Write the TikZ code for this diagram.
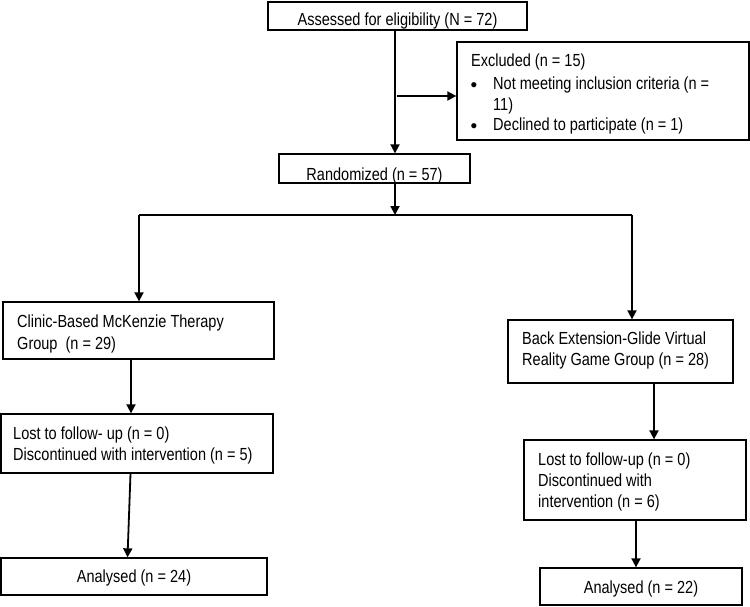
\documentclass[tikz,border=0pt]{standalone}
\usepackage{fontspec}
\setmainfont[FakeStretch=0.83]{Liberation Sans}
\newfontfamily\bulletfont{Liberation Sans}
\usetikzlibrary{arrows.meta,calc}
\begin{document}
\begin{tikzpicture}[x=1pt,y=1pt,
  box/.style={draw=black,line width=1.3pt,rectangle,inner sep=0pt},
  txt/.style={anchor=base west,inner sep=0pt,font=\fontsize{17.5}{21}\selectfont},
  ctxt/.style={anchor=base,inner sep=0pt,font=\fontsize{17.5}{21}\selectfont},
  bul/.style={anchor=base,inner sep=0pt,font=\bulletfont\fontsize{19}{21}\selectfont},
  conn/.style={line width=1.8pt},
  arr/.style={conn,-{Triangle[length=9pt,width=9pt]}}]
\useasboundingbox (0,0) rectangle (750,-606);
% boxes
\node[box,minimum width=259pt,minimum height=28pt] (assess) at (397.5,-16) {};
\node[box,minimum width=292pt,minimum height=98pt] (excl) at (603,-91) {};
\node[box,minimum width=191pt,minimum height=29pt] (rand) at (374.5,-168.5) {};
\node[box,minimum width=271pt,minimum height=57pt] (clinic) at (138.5,-330.5) {};
\node[box,minimum width=272pt,minimum height=59pt] (lostL) at (137,-443.5) {};
\node[box,minimum width=266pt,minimum height=37pt] (analL) at (134,-576.5) {};
\node[box,minimum width=225pt,minimum height=63pt] (back) at (620.5,-351.5) {};
\node[box,minimum width=222pt,minimum height=80pt] (lostR) at (635,-480) {};
\node[box,minimum width=202pt,minimum height=37pt] (analR) at (641,-586.5) {};
% texts
\node[ctxt] (t1) at (397.5,-25) {Assessed for eligibility (N = 72)};
\node[txt] (t2) at (471,-66.5) {Excluded (n = 15)};
\node[bul] (t3b) at (474,-91) {•};
\node[txt] (t3) at (493,-89.5) {Not meeting inclusion criteria (n =};
\node[txt] (t4) at (493,-110.5) {11)};
\node[bul] (t5b) at (474,-132) {•};
\node[txt] (t5) at (493,-130.5) {Declined to participate (n = 1)};
\node[ctxt] (t6) at (374.5,-180) {Randomized (n = 57)};
\node[txt] (t7) at (17,-327) {Clinic-Based McKenzie Therapy};
\node[txt] (t8) at (17,-349) {Group\ \ (n = 29)};
\node[txt] (t9) at (13,-439) {Lost to follow- up (n = 0)};
\node[txt] (t10) at (13,-460) {Discontinued with intervention (n = 5)};
\node[ctxt] (t11) at (134,-582.5) {Analysed (n = 24)};
\node[txt] (t12) at (522,-344.5) {Back Extension-Glide Virtual};
\node[txt] (t13) at (522,-365.5) {Reality Game Group (n = 28)};
\node[txt] (t14) at (538,-465.5) {Lost to follow-up (n = 0)};
\node[txt] (t15) at (538,-486.5) {Discontinued with};
\node[txt] (t16) at (538,-507) {intervention (n = 6)};
\node[ctxt] (t17) at (641,-593.5) {Analysed (n = 22)};
% connectors
\coordinate (c1) at (395,-96);
\coordinate (c1s) at (397,-96);
\coordinate (split) at (395,-215);
\coordinate (splitL) at (139,-215);
\coordinate (splitR) at (632,-215);
\draw[arr] (c1 |- assess.south) -- (c1 |- rand.north);
\draw[arr] (c1s) -- (c1s -| excl.west);
\draw[arr] (split |- rand.south) -- (split);
\draw[conn] (splitL) -- (splitR);
\draw[arr] (splitL) -- (splitL |- clinic.north);
\draw[arr] (splitR) -- (splitR |- back.north);
\draw[arr] ($(clinic.south)+(-7.5,0)$) -- ($(lostL.north)+(-6,0)$);
\draw[arr] ($(lostL.south)+(-6.5,0)$) -- ($(analL.north)+(-6.5,0)$);
\draw[arr] ($(back.south)+(33.5,0)$) -- ($(lostR.north)+(19,0)$);
\draw[arr] ($(lostR.south)+(1,0)$) -- ($(analR.north)+(-5,0)$);
\end{tikzpicture}
\end{document}
